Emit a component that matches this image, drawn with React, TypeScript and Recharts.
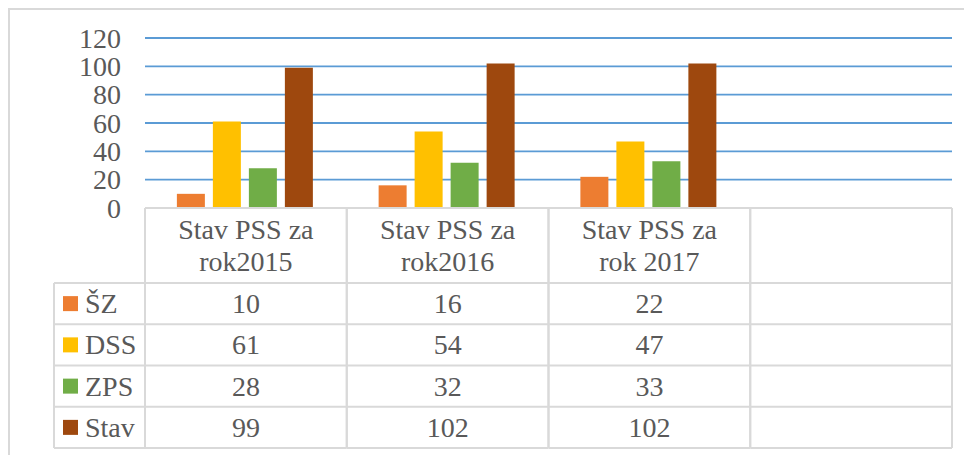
import React from 'react';
import { BarChart, Bar, XAxis, YAxis, CartesianGrid } from 'recharts';

// categories shown as table columns (last one is empty in the source)
const categories = ['Stav PSS za rok2015', 'Stav PSS za rok2016', 'Stav PSS za rok 2017', ''];
const seriesNames = ['ŠZ', 'DSS', 'ZPS', 'Stav'];
const szValues = [10, 16, 22];
const dssValues = [61, 54, 47];
const zpsValues = [28, 32, 33];
const stavValues = [99, 102, 102];
const yTicks = [0, 20, 40, 60, 80, 100, 120];

const seriesValues = [szValues, dssValues, zpsValues, stavValues];
const colors = ['#ED7D31', '#FFC000', '#70AD47', '#9E480E'];

const data = categories.map((name, i) => {
  const row: Record<string, any> = { name };
  seriesNames.forEach((s, j) => {
    row[s] = seriesValues[j][i] ?? null;
  });
  return row;
});

const FONT = "'Liberation Serif', 'Times New Roman', serif";
const TEXT = '#595959';
const LINE = '#d9d9d9';

const W = 964;
const H = 447;
const MARGIN = { top: 30, right: 20, bottom: 7, left: 0 };
const Y_WIDTH = 137;
const X_HEIGHT = 240;
const PLOT_W = W - MARGIN.left - MARGIN.right - Y_WIDTH;
const COL_W = PLOT_W / categories.length;
const TABLE_TOP = H - MARGIN.bottom - X_HEIGHT;
const HEADER_H = 75;
const ROW_H = (X_HEIGHT - HEADER_H) / seriesNames.length;
const LEGEND_LEFT = 46;

function wrapLabel(label: string) {
  const k = label.indexOf(' za ');
  return k < 0 ? [label] : [label.slice(0, k + 3), label.slice(k + 4)];
}

const textStyle = { fontFamily: FONT, fontSize: 28 };

// draws one column of the data table under each category
const TableTick = (props: any) => {
  const { x, payload, index } = props;
  const left = x - COL_W / 2;
  const right = x + COL_W / 2;
  const rowsTop = TABLE_TOP + HEADER_H;
  const bottom = TABLE_TOP + X_HEIGHT;
  const lines = wrapLabel(String(payload.value ?? ''));
  const hc = TABLE_TOP + HEADER_H / 2;

  return (
    <g>
      <line x1={left} x2={left} y1={TABLE_TOP} y2={bottom} stroke={LINE} strokeWidth={2} />
      <line x1={right} x2={right} y1={TABLE_TOP} y2={bottom} stroke={LINE} strokeWidth={2} />
      {seriesNames.map((_, j) => (
        <line key={'h' + j} x1={left} x2={right} y1={rowsTop + j * ROW_H} y2={rowsTop + j * ROW_H} stroke={LINE} strokeWidth={2} />
      ))}
      <line x1={left} x2={right} y1={bottom} y2={bottom} stroke={LINE} strokeWidth={2} />
      {lines.map((l, k) => (
        <text key={'t' + k} x={x} y={hc + (k - (lines.length - 1) / 2) * 31.5} textAnchor="middle" dominantBaseline="central" fill={TEXT} style={textStyle}>
          {l}
        </text>
      ))}
      {seriesNames.map((s, j) => {
        const v = data[index][s];
        return v == null ? null : (
          <text key={'v' + j} x={x} y={rowsTop + (j + 0.5) * ROW_H} textAnchor="middle" dominantBaseline="central" fill={TEXT} style={textStyle}>
            {v}
          </text>
        );
      })}
      {index === 0 && (
        <g>
          <line x1={LEGEND_LEFT} x2={LEGEND_LEFT} y1={rowsTop} y2={bottom} stroke={LINE} strokeWidth={2} />
          {seriesNames.map((s, j) => {
            const cy = rowsTop + (j + 0.5) * ROW_H;
            return (
              <g key={'l' + j}>
                <line x1={LEGEND_LEFT} x2={left} y1={rowsTop + j * ROW_H} y2={rowsTop + j * ROW_H} stroke={LINE} strokeWidth={2} />
                <rect x={LEGEND_LEFT + 9} y={cy - 7.5} width={15} height={15} fill={colors[j]} />
                <text x={LEGEND_LEFT + 31} y={cy} dominantBaseline="central" fill={TEXT} style={textStyle}>
                  {s}
                </text>
              </g>
            );
          })}
          <line x1={LEGEND_LEFT} x2={left} y1={bottom} y2={bottom} stroke={LINE} strokeWidth={2} />
        </g>
      )}
    </g>
  );
};

const YTick = (props: any) => {
  const { x, y, payload } = props;
  return (
    <text x={x} y={y} textAnchor="end" dominantBaseline="central" fill={TEXT} style={textStyle}>
      {payload.value}
    </text>
  );
};

export default function App() {
  return (
    <div style={{ position: 'relative', width: W, height: H }}>
      <style>{`body { overflow: hidden; } .recharts-wrapper text { font-family: ${FONT}; }`}</style>
      <div
        style={{
          position: 'absolute',
          left: 0,
          top: 0,
          width: W,
          height: H,
          boxSizing: 'border-box',
          borderTop: `2px solid ${LINE}`,
          borderLeft: `2px solid ${LINE}`,
        }}
      />
      <div style={{ position: 'absolute', left: 0, top: 0 }}>
        <BarChart width={W} height={H} data={data} margin={MARGIN} barCategoryGap="15.8%" barGap={8}>
          <CartesianGrid vertical={false} stroke="#5B9BD5" strokeWidth={1.8} />
          <YAxis
            width={Y_WIDTH}
            domain={[0, 120]}
            ticks={yTicks}
            interval={0}
            axisLine={false}
            tickLine={false}
            tickSize={0}
            tickMargin={24}
            tick={<YTick />}
          />
          <XAxis
            dataKey="name"
            height={X_HEIGHT}
            interval={0}
            tickLine={false}
            tickSize={0}
            axisLine={{ stroke: LINE, strokeWidth: 2 }}
            tick={<TableTick />}
          />
          {seriesNames.map((s, j) => (
            <Bar key={s} dataKey={s} fill={colors[j]} isAnimationActive={false} />
          ))}
        </BarChart>
      </div>
    </div>
  );
}
